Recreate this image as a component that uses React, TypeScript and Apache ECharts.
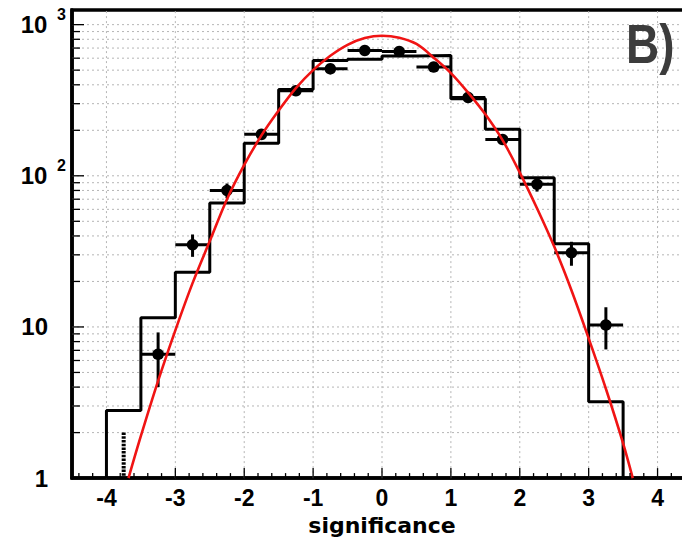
import React, { useEffect, useRef } from "react";
import * as echarts from "echarts";

// Histogram (black step outline): lower bin edges, bin width, counts
const binLow = [-4, -3.5, -3, -2.5, -2, -1.5, -1, -0.5, 0, 0.5, 1, 1.5, 2, 2.5, 3];
const binWidth = 0.5;
const histCounts = [2.8, 11.5, 23, 66, 164, 372, 580, 590, 620, 625, 324, 203, 97, 35.5, 3.2];

// Data points with error bars
const pointX = [-3.25, -2.75, -2.25, -1.75, -1.25, -0.75, -0.25, 0.25, 0.75, 1.25, 1.75, 2.25, 2.75, 3.25];
const pointY = [6.6, 35, 80, 188, 365, 510, 675, 665, 524, 330, 174, 88, 31, 10.3];
const pointErr = [2.6, 5.9, 8.9, 13.7, 19.1, 22.6, 26, 25.8, 22.9, 18.2, 13.2, 9.4, 5.6, 3.2];
const pointHalfWidth = 0.25;

// Point at the lower edge, only its (dotted) upper error bar is visible
const edgePointX = [-3.75];
const edgePointY = [1];
const edgePointErr = [1];

// Red fitted curve
const fitX = [-3.68, -3.5, -3.25, -3, -2.75, -2.5, -2.25, -2, -1.75, -1.5, -1.25, -1, -0.75, -0.5, -0.25, 0, 0.25, 0.5, 0.75, 1, 1.25, 1.5, 1.75, 2, 2.25, 2.5, 2.75, 3, 3.25, 3.5, 3.64];
const fitY = [1, 1.9, 4.4, 9.5, 19.5, 37, 70, 118, 185, 270, 380, 500, 622, 735, 815, 845, 820, 745, 605, 478, 355, 255, 172, 105, 61, 34, 17.5, 8.4, 3.9, 1.7, 1];

// Axes
const xMin = -4.5;
const xMax = 4.5;
const xTickLabels = [-4, -3, -2, -1, 0, 1, 2, 3, 4];
const yMin = 1;
const yMax = 1250;
const yTickLabels = [1, 10, 100, 1000];
const yMinorTicks = [2, 3, 4, 5, 6, 7, 8, 9, 20, 30, 40, 50, 60, 70, 80, 90, 200, 300, 400, 500, 600, 700, 800, 900];

const xMinorTicks: number[] = [];
for (let k = -22; k <= 22; k++) {
  if (k % 5 !== 0) xMinorTicks.push(k / 5);
}

export default function App() {
  const ref = useRef<HTMLDivElement>(null);

  useEffect(() => {
    if (!ref.current) return;
    const chart = echarts.init(ref.current, undefined, { renderer: "svg" });

    const histData: number[][] = [[binLow[0], yMin]];
    binLow.forEach((lo, i) => {
      histData.push([lo, histCounts[i]]);
      histData.push([lo + binWidth, histCounts[i]]);
    });
    histData.push([binLow[binLow.length - 1] + binWidth, yMin]);

    const yGridValues = [...yMinorTicks, ...yTickLabels.filter((v) => v > yMin)];
    const gridStyle = { stroke: "#b5b5b5", lineWidth: 1, lineDash: [2, 3] };

    const option: any = {
      animation: false,
      backgroundColor: "#ffffff",
      grid: {
        left: 72,
        top: 10,
        width: 620,
        height: 471,
        show: true,
        borderColor: "#000",
        borderWidth: 3.5,
        backgroundColor: "transparent",
      },
      xAxis: {
        type: "value",
        min: xMin,
        max: xMax,
        interval: 0.5,
        axisLine: { show: true, onZero: false, lineStyle: { color: "#000", width: 3.5 } },
        axisTick: { show: false },
        splitLine: { show: false },
        axisLabel: {
          formatter: (v: number) =>
            Math.abs(v - Math.round(v)) < 1e-6 && xTickLabels.includes(Math.round(v)) ? String(Math.round(v)) : "",
          color: "#000",
          fontSize: 23,
          fontWeight: "bold",
          fontFamily: "Liberation Sans",
          margin: 8,
          showMinLabel: true,
          showMaxLabel: true,
        },
        name: "significance",
        nameLocation: "middle",
        nameGap: 27,
        nameTextStyle: { color: "#000", fontSize: 22, fontWeight: "bold", fontFamily: "DejaVu Sans" },
      },
      yAxis: {
        type: "log",
        logBase: 10,
        min: yMin,
        max: yMax,
        axisLine: { show: true, onZero: false, lineStyle: { color: "#000", width: 3.5 } },
        axisTick: { show: false },
        splitLine: { show: false },
        axisLabel: {
          align: "left",
          margin: 52,
          formatter: (v: number) => {
            const p = Math.log10(v);
            const r = Math.round(p);
            if (Math.abs(p - r) > 1e-6 || !yTickLabels.includes(Math.pow(10, r))) return "";
            if (r === 0) return "{n|1}";
            if (r === 1) return "{n|10}";
            return "{n|10}{s|" + r + "}";
          },
          rich: {
            n: {
              width: 28,
              align: "right",
              fontSize: 24,
              fontWeight: "bold",
              fontFamily: "Liberation Sans",
              color: "#000",
              lineHeight: 36,
            },
            s: {
              fontSize: 16,
              fontWeight: "bold",
              fontFamily: "Liberation Sans",
              color: "#000",
              lineHeight: 16,
              verticalAlign: "top",
              padding: [0, 0, 0, 9],
            },
          },
        },
      },
      graphic: [
        {
          type: "text",
          x: 626,
          y: 16,
          scaleX: 0.82,
          style: {
            text: "B)",
            fill: "#3c3c3c",
            font: 'bold 56px "Liberation Sans"',
            verticalAlign: "top",
            textVerticalAlign: "top",
          },
          z: 10,
        },
      ],
      series: [
        // horizontal grid lines
        {
          type: "custom",
          z: 1,
          silent: true,
          data: yGridValues.map((v) => [0, v]),
          encode: { x: 0, y: 1 },
          renderItem: (params: any, api: any) => {
            const v = api.value(1);
            const a = api.coord([xMin, v]);
            const b = api.coord([xMax, v]);
            return { type: "line", shape: { x1: a[0], y1: a[1], x2: b[0], y2: b[1] }, style: gridStyle };
          },
        },
        // vertical grid lines
        {
          type: "custom",
          z: 1,
          silent: true,
          data: xTickLabels.map((v) => [v, yMin]),
          encode: { x: 0, y: 1 },
          renderItem: (params: any, api: any) => {
            const v = api.value(0);
            const a = api.coord([v, yMin]);
            const b = api.coord([v, yMax]);
            return { type: "line", shape: { x1: a[0], y1: a[1], x2: b[0], y2: b[1] }, style: gridStyle };
          },
        },
        // histogram
        {
          type: "line",
          z: 3,
          data: histData,
          symbol: "none",
          lineStyle: { color: "#000", width: 3 },
          silent: true,
        },
        // data points with error bars
        {
          type: "custom",
          z: 4,
          silent: true,
          data: pointX.map((x, i) => [x, pointY[i], pointErr[i]]),
          encode: { x: 0, y: 1 },
          renderItem: (params: any, api: any) => {
            const x = api.value(0);
            const y = api.value(1);
            const e = api.value(2);
            const c = api.coord([x, y]);
            const l = api.coord([x - pointHalfWidth, y]);
            const r = api.coord([x + pointHalfWidth, y]);
            const t = api.coord([x, y + e]);
            const b = api.coord([x, Math.max(y - e, yMin)]);
            const st = { stroke: "#000", lineWidth: 3 };
            return {
              type: "group",
              children: [
                { type: "line", shape: { x1: l[0], y1: l[1], x2: r[0], y2: r[1] }, style: st },
                { type: "line", shape: { x1: t[0], y1: t[1], x2: b[0], y2: b[1] }, style: st },
                { type: "circle", shape: { cx: c[0], cy: c[1], r: 5.8 }, style: { fill: "#000" } },
              ],
            };
          },
        },
        // edge point: only dotted upper error bar
        {
          type: "custom",
          z: 4,
          silent: true,
          data: edgePointX.map((x, i) => [x, edgePointY[i], edgePointErr[i]]),
          encode: { x: 0, y: 1 },
          renderItem: (params: any, api: any) => {
            const x = api.value(0);
            const y = api.value(1);
            const e = api.value(2);
            const t = api.coord([x, y + e]);
            const b = api.coord([x, y]);
            return {
              type: "line",
              shape: { x1: t[0], y1: t[1], x2: b[0], y2: b[1] },
              style: { stroke: "#000", lineWidth: 4, lineDash: [2.5, 1.2] },
            };
          },
        },
        // fitted curve
        {
          type: "line",
          z: 5,
          data: fitX.map((x, i) => [x, fitY[i]]),
          symbol: "none",
          smooth: 0.35,
          lineStyle: { color: "#f01414", width: 2.6 },
          silent: true,
        },
        // x ticks
        {
          type: "custom",
          z: 6,
          silent: true,
          data: [...xTickLabels.map((v) => [v, yMin, 10]), ...xMinorTicks.map((v) => [v, yMin, 5])],
          encode: { x: 0, y: 1 },
          renderItem: (params: any, api: any) => {
            const a = api.coord([api.value(0), yMin]);
            const len = api.value(2);
            return {
              type: "line",
              shape: { x1: a[0], y1: a[1], x2: a[0], y2: a[1] - len },
              style: { stroke: "#000", lineWidth: 1.3 },
            };
          },
        },
        // y ticks
        {
          type: "custom",
          z: 6,
          silent: true,
          data: [...yTickLabels.filter((v) => v > yMin).map((v) => [xMin, v, 12]), ...yMinorTicks.map((v) => [xMin, v, 8])],
          encode: { x: 0, y: 1 },
          renderItem: (params: any, api: any) => {
            const a = api.coord([xMin, api.value(1)]);
            const len = api.value(2);
            return {
              type: "line",
              shape: { x1: a[0], y1: a[1], x2: a[0] + len, y2: a[1] },
              style: { stroke: "#000", lineWidth: 1.3 },
            };
          },
        },
      ],
    };

    chart.setOption(option);
    return () => chart.dispose();
  }, []);

  return (
    <div
      style={{
        position: "fixed",
        left: 0,
        top: 0,
        width: 682,
        height: 541,
        overflow: "hidden",
        background: "#fff",
      }}
    >
      <div ref={ref} style={{ width: 710, height: 541 }} />
    </div>
  );
}
